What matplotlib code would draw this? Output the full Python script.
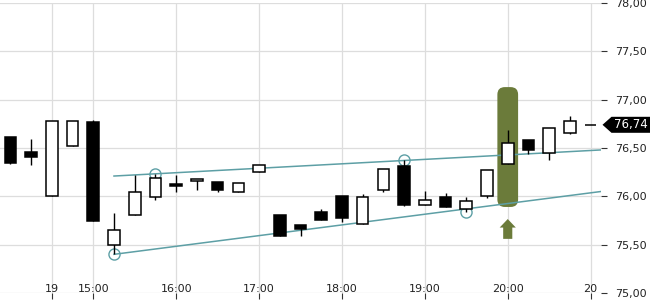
import matplotlib
matplotlib.use("Agg")
import matplotlib.pyplot as plt
from matplotlib.patches import FancyBboxPatch, Polygon, Rectangle
from matplotlib.transforms import IdentityTransform
import numpy as np

# candles, 15 minute bars, oldest first
opens = [76.61, 76.46, 76.00, 76.52, 76.77, 75.50, 75.81, 75.99, 76.13, 76.16,
         76.15, 76.05, 76.25, 75.81, 75.70, 75.84, 76.00, 75.71, 76.07, 76.31,
         75.91, 75.99, 75.87, 76.00, 76.33, 76.58, 76.45, 76.66, 76.74]
highs = [76.61, 76.59, 76.78, 76.78, 76.79, 75.83, 76.22, 76.23, 76.22, 76.18,
         76.15, 76.14, 76.32, 75.81, 75.70, 75.87, 76.00, 76.02, 76.28, 76.38,
         76.06, 76.03, 75.99, 76.27, 76.69, 76.58, 76.71, 76.83, 76.74]
lows = [76.33, 76.32, 76.00, 76.52, 75.74, 75.40, 75.81, 75.96, 76.05, 76.07,
        76.04, 76.05, 76.25, 75.59, 75.59, 75.76, 75.73, 75.71, 76.04, 75.90,
        75.91, 75.89, 75.84, 75.98, 76.33, 76.44, 76.38, 76.65, 76.74]
closes = [76.35, 76.41, 76.78, 76.78, 75.74, 75.65, 76.04, 76.19, 76.11, 76.18,
          76.07, 76.14, 76.32, 75.59, 75.66, 75.76, 75.78, 75.99, 76.28, 75.91,
          75.96, 75.89, 75.95, 76.27, 76.55, 76.48, 76.71, 76.78, 76.74]

# x axis labels (by bar index)
tick_pos = [2, 4, 8, 12, 16, 20, 24, 28]
tick_labels = ["19", "15:00", "16:00", "17:00", "18:00", "19:00", "20:00", "20"]
y_ticks = [75.0, 75.5, 76.0, 76.5, 77.0, 77.5, 78.0]

# pivot points and the two trend lines through them
pivot_idx = [5, 7, 19, 22]
pivot_val = [75.40, 76.23, 76.38, 75.84]
upper_line = ([5, 28.5], [76.21, 76.48])
lower_line = ([5, 28.5], [75.40, 76.05])

signal_idx = 24
last_price = 76.74

teal = "#5d9fa5"
olive = "#6b7b3a"

fig = plt.figure(figsize=(6.5, 3), dpi=100)
ax = fig.add_axes([0, 7 / 300, 601 / 650, 290 / 300])
ax.set_xlim(-0.5, 28.5)
ax.set_ylim(75, 78)

# highlight behind the signal candle
pad = 0.44
hl = FancyBboxPatch((signal_idx - 0.5, lows[signal_idx] - pad), 1.0,
                    highs[signal_idx] - lows[signal_idx] + 2 * pad,
                    boxstyle="round,pad=0,rounding_size=0.36",
                    mutation_aspect=0.214, fc=olive, ec="none", zorder=1)
ax.add_patch(hl)
tip = lows[signal_idx] - pad - 0.125
ax.arrow(signal_idx, tip - 0.205, 0, 0.205, width=0.44, head_width=0.78,
         head_length=0.088, length_includes_head=True, fc=olive, ec="none", zorder=1)

# trend lines and pivots
ax.plot(*upper_line, color=teal, lw=1.1, zorder=2)
ax.plot(*lower_line, color=teal, lw=1.1, zorder=2)
ax.plot(pivot_idx, pivot_val, "o", ms=8, mfc="none", mec=teal, mew=1.0, zorder=2)

# candles
w = 0.56
for i in range(len(opens)):
    o, h, l, c = opens[i], highs[i], lows[i], closes[i]
    ax.vlines(i, l, h, color="black", lw=1.0, zorder=3)
    lo, hi = min(o, c), max(o, c)
    face = "white" if c >= o else "black"
    ax.add_patch(Rectangle((i - w / 2, lo), w, hi - lo, fc=face, ec="black",
                           lw=1.1, zorder=4))

ax.grid(True, color="#dddddd", lw=0.9, zorder=0)
ax.set_axisbelow(True)
for s in ax.spines.values():
    s.set_visible(False)

ax.set_xticks(tick_pos)
ax.set_xticklabels(tick_labels)
ax.tick_params(axis="x", direction="out", length=4, width=0.8, color="#333333",
               pad=-10.5, labelsize=8, labelcolor="#222222")
ax.yaxis.tick_right()
ax.set_yticks(y_ticks)
ax.set_yticklabels([f"{v:.2f}".replace(".", ",") for v in y_ticks])
ax.tick_params(axis="y", direction="out", length=4, width=0.8, color="#333333",
               pad=6, labelsize=8, labelcolor="#222222")

# last price tag on the right
px, py = ax.transData.transform((28.5, last_price))
px += 1.5
tag = Polygon([(px, py), (px + 9, py + 8), (650, py + 8), (650, py - 8), (px + 9, py - 8)],
              closed=True, fc="black", ec="none", transform=IdentityTransform(),
              clip_on=False, zorder=10)
fig.patches.append(tag)
fig.text((px + 28) / 650, py / 300, f"{last_price:.2f}".replace(".", ","),
         color="white", fontsize=8.5, ha="center", va="center", zorder=11)

fig.savefig("out.png", dpi=100)
